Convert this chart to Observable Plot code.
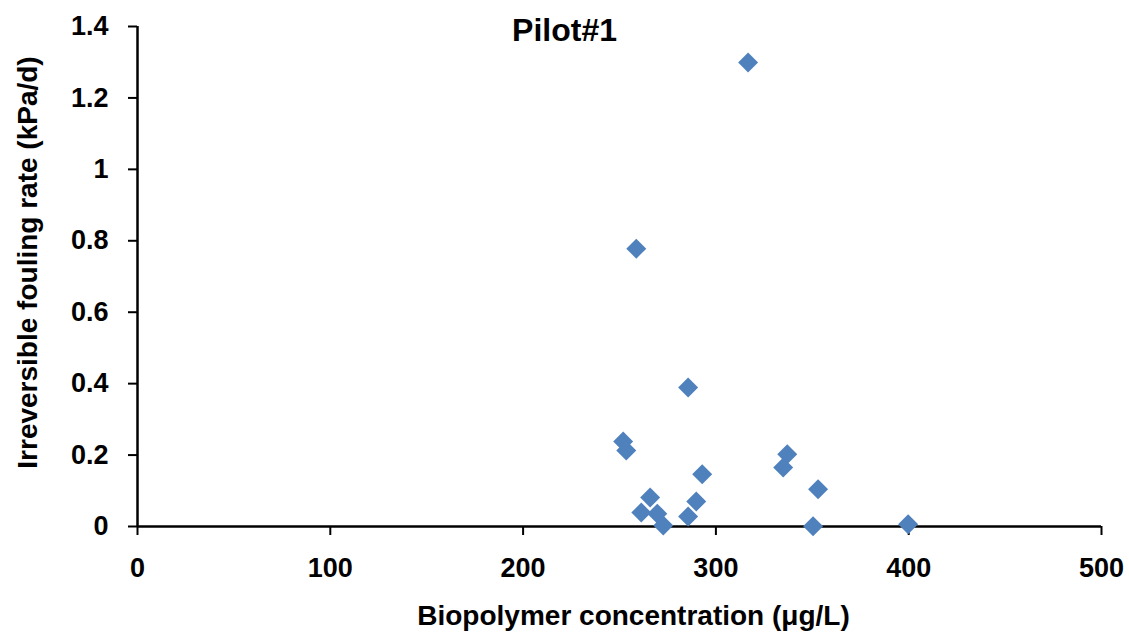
<!DOCTYPE html>
<html>
<head>
<meta charset="utf-8">
<script src="https://cdn.jsdelivr.net/npm/d3@7"></script>
<script src="https://cdn.jsdelivr.net/npm/@observablehq/plot@0.6"></script>
<style>
  html, body { margin: 0; padding: 0; background: #fff; }
  #chart svg { display: block; }
</style>
</head>
<body>
<div id="chart"></div>
<script>
// Pilot#1: biopolymer concentration vs irreversible fouling rate
const biopolymer = [316.7, 258.7, 285.6, 251.9, 253.5, 292.9, 337.0, 334.9, 353.0,
                    265.9, 289.8, 261.3, 269.6, 285.6, 272.7, 350.4, 399.7];
const foulingRate = [1.299, 0.778, 0.389, 0.238, 0.213, 0.146, 0.202, 0.165, 0.104,
                     0.081, 0.070, 0.039, 0.036, 0.028, 0.003, 0.001, 0.006];

const xTicks = [0, 100, 200, 300, 400, 500];
const yTicks = [0, 0.2, 0.4, 0.6, 0.8, 1, 1.2, 1.4];

const chartTitle = "Pilot#1";
const xTitle = "Biopolymer concentration (μg/L)";
const yTitle = "Irreversible fouling rate (kPa/d)";

const points = biopolymer.map((x, i) => ({x, y: foulingRate[i]}));

const font = "'Liberation Sans', Arial, sans-serif";

const chart = Plot.plot({
  width: 1129,
  height: 635,
  marginLeft: 137,
  marginRight: 28,
  marginTop: 26,
  marginBottom: 109,
  style: {fontFamily: font, color: "#000", background: "#fff", overflow: "visible"},
  x: {domain: [0, 500]},
  y: {domain: [0, 1.4]},
  marks: [
    Plot.axisX({
      ticks: xTicks, tickSize: 9, tickPadding: 22, tickFormat: d => String(d),
      fontSize: 27, fontWeight: "bold", strokeWidth: 2, label: null
    }),
    Plot.axisY({
      ticks: yTicks, tickSize: 9, tickPadding: 20, tickFormat: d => String(+d.toFixed(1)),
      fontSize: 27, fontWeight: "bold", strokeWidth: 2, label: null
    }),
    Plot.ruleY([0], {stroke: "#000", strokeWidth: 2.5}),
    Plot.ruleX([0], {stroke: "#000", strokeWidth: 2.5}),
    Plot.dot(points, {x: "x", y: "y", symbol: "diamond2", r: 9, fill: "#4f81bd", stroke: "none"}),
    Plot.text([chartTitle], {
      frameAnchor: "top", lineAnchor: "middle", textAnchor: "middle",
      dx: -55, dy: 4, fontSize: 32, fontWeight: "bold", fill: "#000"
    }),
    Plot.text([xTitle], {
      frameAnchor: "bottom", lineAnchor: "middle", textAnchor: "middle",
      dx: 14, dy: 90, fontSize: 28, fontWeight: "bold", fill: "#000"
    }),
    Plot.text([yTitle], {
      frameAnchor: "left", lineAnchor: "middle", textAnchor: "middle", rotate: -90,
      dx: -109, dy: -14, fontSize: 28, fontWeight: "bold", fill: "#000"
    })
  ]
});

document.getElementById("chart").appendChild(chart);
</script>
</body>
</html>
